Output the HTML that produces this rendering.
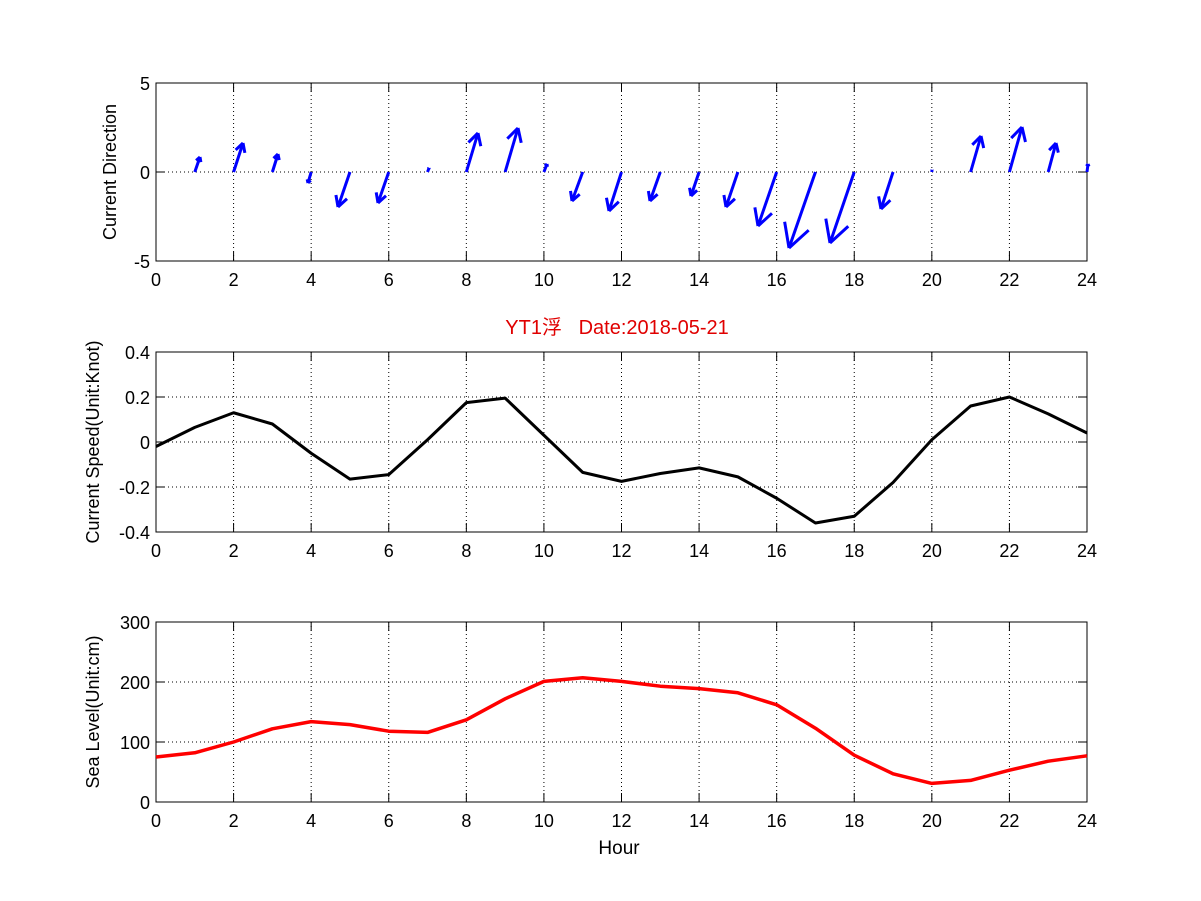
<!DOCTYPE html>
<html><head><meta charset="utf-8"><style>
html,body{margin:0;padding:0;background:#fff;}
svg{display:block;font-family:"Liberation Sans","Noto Sans CJK SC",sans-serif;}
</style></head><body>
<svg id="s" width="1201" height="901" viewBox="0 0 1201 901" xmlns="http://www.w3.org/2000/svg"></svg>
<script>
var s=document.getElementById('s'),h='';
var X0=156,X1=1087,px=(X1-X0)/24;
function X(t){return X0+t*px;}
function axes(yt,yb,labels,ylab,lx){
  for(var i=0;i<=12;i++){var x=X(i*2);h+='<line x1="'+x+'" y1="'+yt+'" x2="'+x+'" y2="'+yb+'" stroke="#000" stroke-width="1" stroke-dasharray="1,3"/>';}
  labels.forEach(function(l){h+='<line x1="'+X0+'" y1="'+l[1]+'" x2="'+X1+'" y2="'+l[1]+'" stroke="#000" stroke-width="1" stroke-dasharray="1,3"/>';
    h+='<text x="'+(X0-6)+'" y="'+(l[1]+7)+'" font-size="18" text-anchor="end">'+l[0]+'</text>';
    h+='<line x1="'+X0+'" y1="'+l[1]+'" x2="'+(X0+9)+'" y2="'+l[1]+'" stroke="#000"/><line x1="'+X1+'" y1="'+l[1]+'" x2="'+(X1-9)+'" y2="'+l[1]+'" stroke="#000"/>';});
  for(var i=0;i<=12;i++){var x=X(i*2);
    h+='<line x1="'+x+'" y1="'+yb+'" x2="'+x+'" y2="'+(yb-9)+'" stroke="#000"/><line x1="'+x+'" y1="'+yt+'" x2="'+x+'" y2="'+(yt+9)+'" stroke="#000"/>';
    h+='<text x="'+x+'" y="'+(yb+25)+'" font-size="18" text-anchor="middle">'+(i*2)+'</text>';}
  h+='<rect x="'+X0+'" y="'+yt+'" width="'+(X1-X0)+'" height="'+(yb-yt)+'" fill="none" stroke="#000" stroke-width="1"/>';
  var cy=(yt+yb)/2;
  h+='<text x="0" y="0" font-size="18" text-anchor="middle" transform="translate('+lx+','+cy+') rotate(-90)">'+ylab+'</text>';
}
axes(83,261,[['5',83],['0',172],['-5',261]],'Current Direction',116);
axes(352,532,[['0.4',352],['0.2',397],['0',442],['-0.2',487],['-0.4',532]],'Current Speed(Unit:Knot)',99);
axes(622,802,[['300',622],['200',682],['100',742],['0',802]],'Sea Level(Unit:cm)',99);
h+='<text x="619" y="854" font-size="19" text-anchor="middle">Hour</text>';
h+='<text x="617" y="334" font-size="20" fill="#e00000" text-anchor="middle">YT1浮 &#160;&#160;Date:2018-05-21</text>';
var tips=[[200,157],[243,143],[278,154],[308,183],[338,207],[378,203],[429,168],[478,133],[518,128],[547,164],[572,201],[609,211],[650,201],[691,196],[726,207],[758,226],[789,248],[830,243],[881,209],[932,170],[981,136],[1022,127],[1056,143],[1088,164]];
tips.forEach(function(t,i){var sx=X(i+1),sy=172,dx=t[0]-sx,dy=t[1]-sy,L=Math.sqrt(dx*dx+dy*dy);
  h+='<line x1="'+sx+'" y1="'+sy+'" x2="'+t[0]+'" y2="'+t[1]+'" stroke="#0000ff" stroke-width="3"/>';
  var hl=L*0.33,a=Math.atan2(dy,dx);
  [0.5,-0.5].forEach(function(d){var b=a+Math.PI+d;
    h+='<line x1="'+t[0]+'" y1="'+t[1]+'" x2="'+(t[0]+hl*Math.cos(b))+'" y2="'+(t[1]+hl*Math.sin(b))+'" stroke="#0000ff" stroke-width="3"/>';});
});
var sp=[-0.02,0.065,0.13,0.08,-0.05,-0.165,-0.145,0.01,0.175,0.195,0.03,-0.135,-0.175,-0.14,-0.115,-0.155,-0.25,-0.36,-0.33,-0.18,0.01,0.16,0.2,0.125,0.04];
h+='<polyline fill="none" stroke="#000" stroke-width="3" stroke-linejoin="round" points="'+sp.map(function(v,i){return X(i)+','+(442-v*225);}).join(' ')+'"/>';
var sl=[75,82,100,122,134,129,118,116,137,172,201,207,201,193,189,182,162,123,78,47,31,36,53,68,77];
h+='<polyline fill="none" stroke="#ff0000" stroke-width="3.5" stroke-linejoin="round" points="'+sl.map(function(v,i){return X(i)+','+(802-v*0.6);}).join(' ')+'"/>';
s.innerHTML=h;
</script>
</body></html>
